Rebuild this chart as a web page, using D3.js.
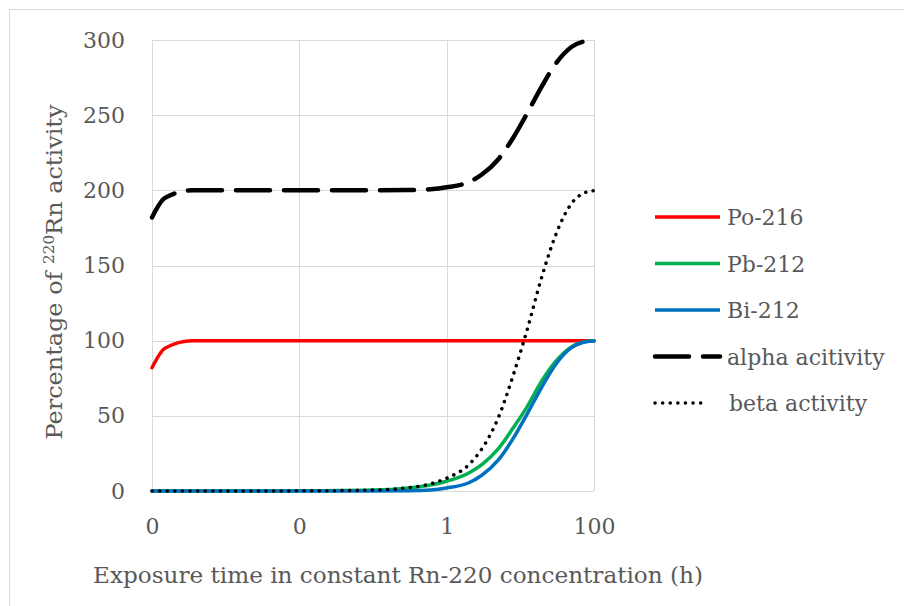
<!DOCTYPE html>
<html>
<head>
<meta charset="utf-8">
<script src="https://cdn.jsdelivr.net/npm/d3@7"></script>
<style>
  body { margin: 0; background: #fff; }
  text { font-family: "DejaVu Serif", serif; fill: #595959; }
</style>
</head>
<body>
<div id="chart"></div>
<script>
// exposure time (h), log axis
const times = [0.0001, 0.00015, 0.00035, 0.001, 0.01, 0.1, 0.3, 0.6, 1, 2, 3, 5, 8, 12, 20, 30, 50, 70, 100];
const po216 = [82, 95, 100, 100, 100, 100, 100, 100, 100, 100, 100, 100, 100, 100, 100, 100, 100, 100, 100];
const pb212 = [0, 0, 0, 0, 0.1, 0.6, 2, 4, 6.5, 12, 17.5, 28, 42, 55, 74, 86, 96, 99, 100];
const bi212 = [0, 0, 0, 0, 0, 0, 0.2, 0.7, 2, 5.5, 10.5, 20.5, 35, 50, 70, 84, 95.5, 98.8, 99.8];
const alpha = [182, 195, 200, 200, 200, 200, 200.2, 200.7, 202, 205.5, 210.5, 220.5, 235, 250, 270, 284, 295.5, 298.8, 299.8];
const beta  = [0, 0, 0, 0, 0.1, 0.6, 2.2, 4.7, 8.5, 17.5, 28, 48.5, 77, 105, 144, 170, 191.5, 197.8, 199.8];

const xTicks = [0.0001, 0.01, 1, 100];
const yTicks = [0, 50, 100, 150, 200, 250, 300];

const series = [
  { name: "Po-216", values: po216, color: "#FF0000", width: 3.5, dash: null },
  { name: "Pb-212", values: pb212, color: "#00B050", width: 3.5, dash: null },
  { name: "Bi-212", values: bi212, color: "#0070C0", width: 3.5, dash: null },
  { name: "alpha acitivity", values: alpha, color: "#000000", width: 4.5, dash: "34,14" },
  { name: "beta activity", values: beta, color: "#000000", width: 3.5, dash: "0.1,7.5" }
];

const width = 904, height = 606;
const plot = { left: 152, right: 594, top: 40, bottom: 491 };

const svg = d3.select("#chart").append("svg")
  .attr("width", width).attr("height", height);

// outer frame (only top/left visible in the crop)
svg.append("rect")
  .attr("x", 9.5).attr("y", 9.5)
  .attr("width", 1000).attr("height", 1000)
  .attr("fill", "none").attr("stroke", "#d9d9d9");

const x = d3.scaleLog().domain([0.0001, 100]).range([plot.left, plot.right]);
const y = d3.scaleLinear().domain([0, 300]).range([plot.bottom, plot.top]);

// gridlines
svg.append("g").selectAll("line")
  .data(yTicks)
  .join("line")
  .attr("x1", plot.left).attr("x2", plot.right)
  .attr("y1", d => Math.round(y(d)) + 0.5).attr("y2", d => Math.round(y(d)) + 0.5)
  .attr("stroke", "#d9d9d9").attr("stroke-width", 1);

svg.append("g").selectAll("line")
  .data(xTicks)
  .join("line")
  .attr("x1", d => Math.round(x(d)) + 0.5).attr("x2", d => Math.round(x(d)) + 0.5)
  .attr("y1", plot.top).attr("y2", plot.bottom)
  .attr("stroke", "#d9d9d9").attr("stroke-width", 1);

// axes (labels only, Excel style)
const xAxis = svg.append("g")
  .attr("transform", `translate(0,${plot.bottom})`)
  .call(d3.axisBottom(x).tickValues(xTicks).tickSize(0).tickPadding(27).tickFormat(d3.format(".0f")));
xAxis.select(".domain").remove();
xAxis.selectAll("text").style("font-size", "22px").attr("fill", "#595959");

const yAxis = svg.append("g")
  .attr("transform", `translate(${plot.left},0)`)
  .call(d3.axisLeft(y).tickValues(yTicks).tickSize(0).tickPadding(27));
yAxis.select(".domain").remove();
yAxis.selectAll("text").style("font-size", "22px").attr("fill", "#595959");

// lines
const line = d3.line()
  .x((d, i) => x(times[i]))
  .y(d => y(d))
  .curve(d3.curveMonotoneX);

series.forEach(s => {
  svg.append("path")
    .datum(s.values)
    .attr("fill", "none")
    .attr("stroke", s.color)
    .attr("stroke-width", s.width)
    .attr("stroke-linecap", "round")
    .attr("stroke-dasharray", s.dash)
    .attr("d", line);
});

// legend
const legend = svg.append("g");
series.forEach((s, i) => {
  const ly = 217 + i * 46.5;
  legend.append("line")
    .attr("x1", 655).attr("x2", s.dash && s.dash.startsWith("0.1") ? 708 : 720)
    .attr("y1", ly).attr("y2", ly)
    .attr("stroke", s.color)
    .attr("stroke-width", s.width)
    .attr("stroke-linecap", s.dash ? "round" : "butt")
    .attr("stroke-dasharray", s.dash);
  legend.append("text")
    .attr("x", s.name === "beta activity" ? 729 : 727)
    .attr("y", ly + 8)
    .style("font-size", "22px")
    .text(s.name);
});

// axis titles
svg.append("text")
  .attr("x", 398).attr("y", 583)
  .attr("text-anchor", "middle")
  .attr("textLength", 610).attr("lengthAdjust", "spacingAndGlyphs")
  .style("font-size", "22px")
  .text("Exposure time in constant Rn-220 concentration (h)");

const yt = svg.append("text")
  .attr("transform", "translate(62,272) rotate(-90)")
  .attr("text-anchor", "middle")
  .attr("textLength", 335).attr("lengthAdjust", "spacingAndGlyphs")
  .style("font-size", "22px");
yt.append("tspan").text("Percentage of ");
yt.append("tspan").attr("dy", -8).style("font-size", "14px").text("220");
yt.append("tspan").attr("dy", 8).text("Rn activity");
</script>
</body>
</html>
